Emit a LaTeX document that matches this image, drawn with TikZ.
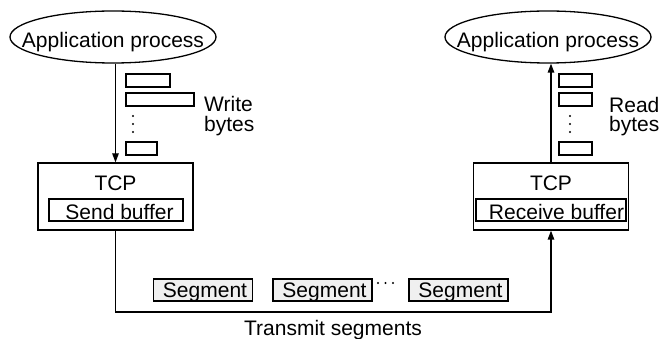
\documentclass[tikz,border=0pt]{standalone}
\usepackage{fontspec}
\setmainfont{Liberation Sans}
\usetikzlibrary{shapes.geometric,arrows.meta}
\tikzset{
  x=1pt,y=-1pt,
  lw/.style={line width=1.3pt},
  txt/.style={font=\fontsize{21}{25}\selectfont, inner sep=0pt},
  proc/.style={ellipse, draw, lw, minimum width=206pt, minimum height=52pt, inner sep=0pt, font=\fontsize{21}{25}\selectfont},
  tcpbox/.style={rectangle, draw, lw, minimum width=155pt, minimum height=67pt, inner sep=0pt},
  bufbox/.style={rectangle, draw, lw, minimum height=22pt, inner sep=0pt, font=\fontsize{21}{25}\selectfont},
  segbox/.style={rectangle, draw, lw, fill=gray!12, minimum width=99pt, minimum height=22pt, inner sep=0pt, font=\fontsize{21}{25}\selectfont},
  arr/.style={lw, -{Triangle[length=9pt,width=6.5pt]}},
  dot/.style={fill=black, draw=none},
}
\begin{document}
\begin{tikzpicture}
\useasboundingbox (0,0) rectangle (665,339);
% application processes
\node[proc] (app1) at (113,37) {\smash{\raisebox{-11pt}{\makebox[0pt]{Application process}}}};
\node[proc] (app2) at (548,37) {\smash{\raisebox{-11pt}{\makebox[0pt]{Application process}}}};
% TCP boxes
\node[tcpbox] (tcp1) at (115.5,196.5) {};
\node[tcpbox] (tcp2) at (551,196.5) {};
\node[txt] (tcpl1) at (115.5,183) {TCP};
\node[txt] (tcpl2) at (551,183) {TCP};
\node[bufbox, minimum width=134pt] (sbuf) at (116,210) {\smash{\raisebox{-10pt}{\makebox[0pt]{\hspace*{7pt}Send buffer}}}};
\node[bufbox, minimum width=150pt] (rbuf) at (551,210) {\smash{\raisebox{-10pt}{\makebox[0pt]{\hspace*{11pt}Receive buffer}}}};
% byte rectangles
\draw[lw] (126,74) rectangle (170,87);
\draw[lw] (126,93) rectangle (194,106);
\draw[lw] (126,142) rectangle (157,155);
\draw[lw] (559,74) rectangle (592,87);
\draw[lw] (559,93) rectangle (592,106);
\draw[lw] (559,142) rectangle (592,155);
\foreach \yy in {116,124,132} {
  \fill[dot] (133,\yy) circle (1.05);
  \fill[dot] (570,\yy) circle (1.05);
}
\node[txt, anchor=base west] (w1) at (204,112) {Write};
\node[txt, anchor=base west] (w2) at (204,132) {bytes};
\node[txt, anchor=base west] (r1) at (609,113) {Read};
\node[txt, anchor=base west] (r2) at (609,132) {bytes};
% arrows app <-> tcp
\draw[arr] (tcp1.north |- app1.south) -- (tcp1.north);
\draw[arr] (tcp2.north) -- (tcp2.north |- app2.south);
% segments
\node[segbox] (s1) at (203,290) {\smash{\raisebox{-8pt}{\makebox[0pt]{\hspace*{4pt}Segment}}}};
\node[segbox] (s2) at (322.5,290) {\smash{\raisebox{-8pt}{\makebox[0pt]{\hspace*{4pt}Segment}}}};
\node[segbox] (s3) at (458.5,290) {\smash{\raisebox{-8pt}{\makebox[0pt]{\hspace*{4pt}Segment}}}};
\foreach \xx in {378,385.5,393} { \fill[dot] (\xx,283) circle (1.05); }
% transmit connector
\coordinate (bl) at (115.5,312);
\draw[arr] (tcp1.south) -- (bl) -| (tcp2.south);
\node[txt, anchor=base] (trans) at (333,336) {Transmit segments};
\end{tikzpicture}
\end{document}
